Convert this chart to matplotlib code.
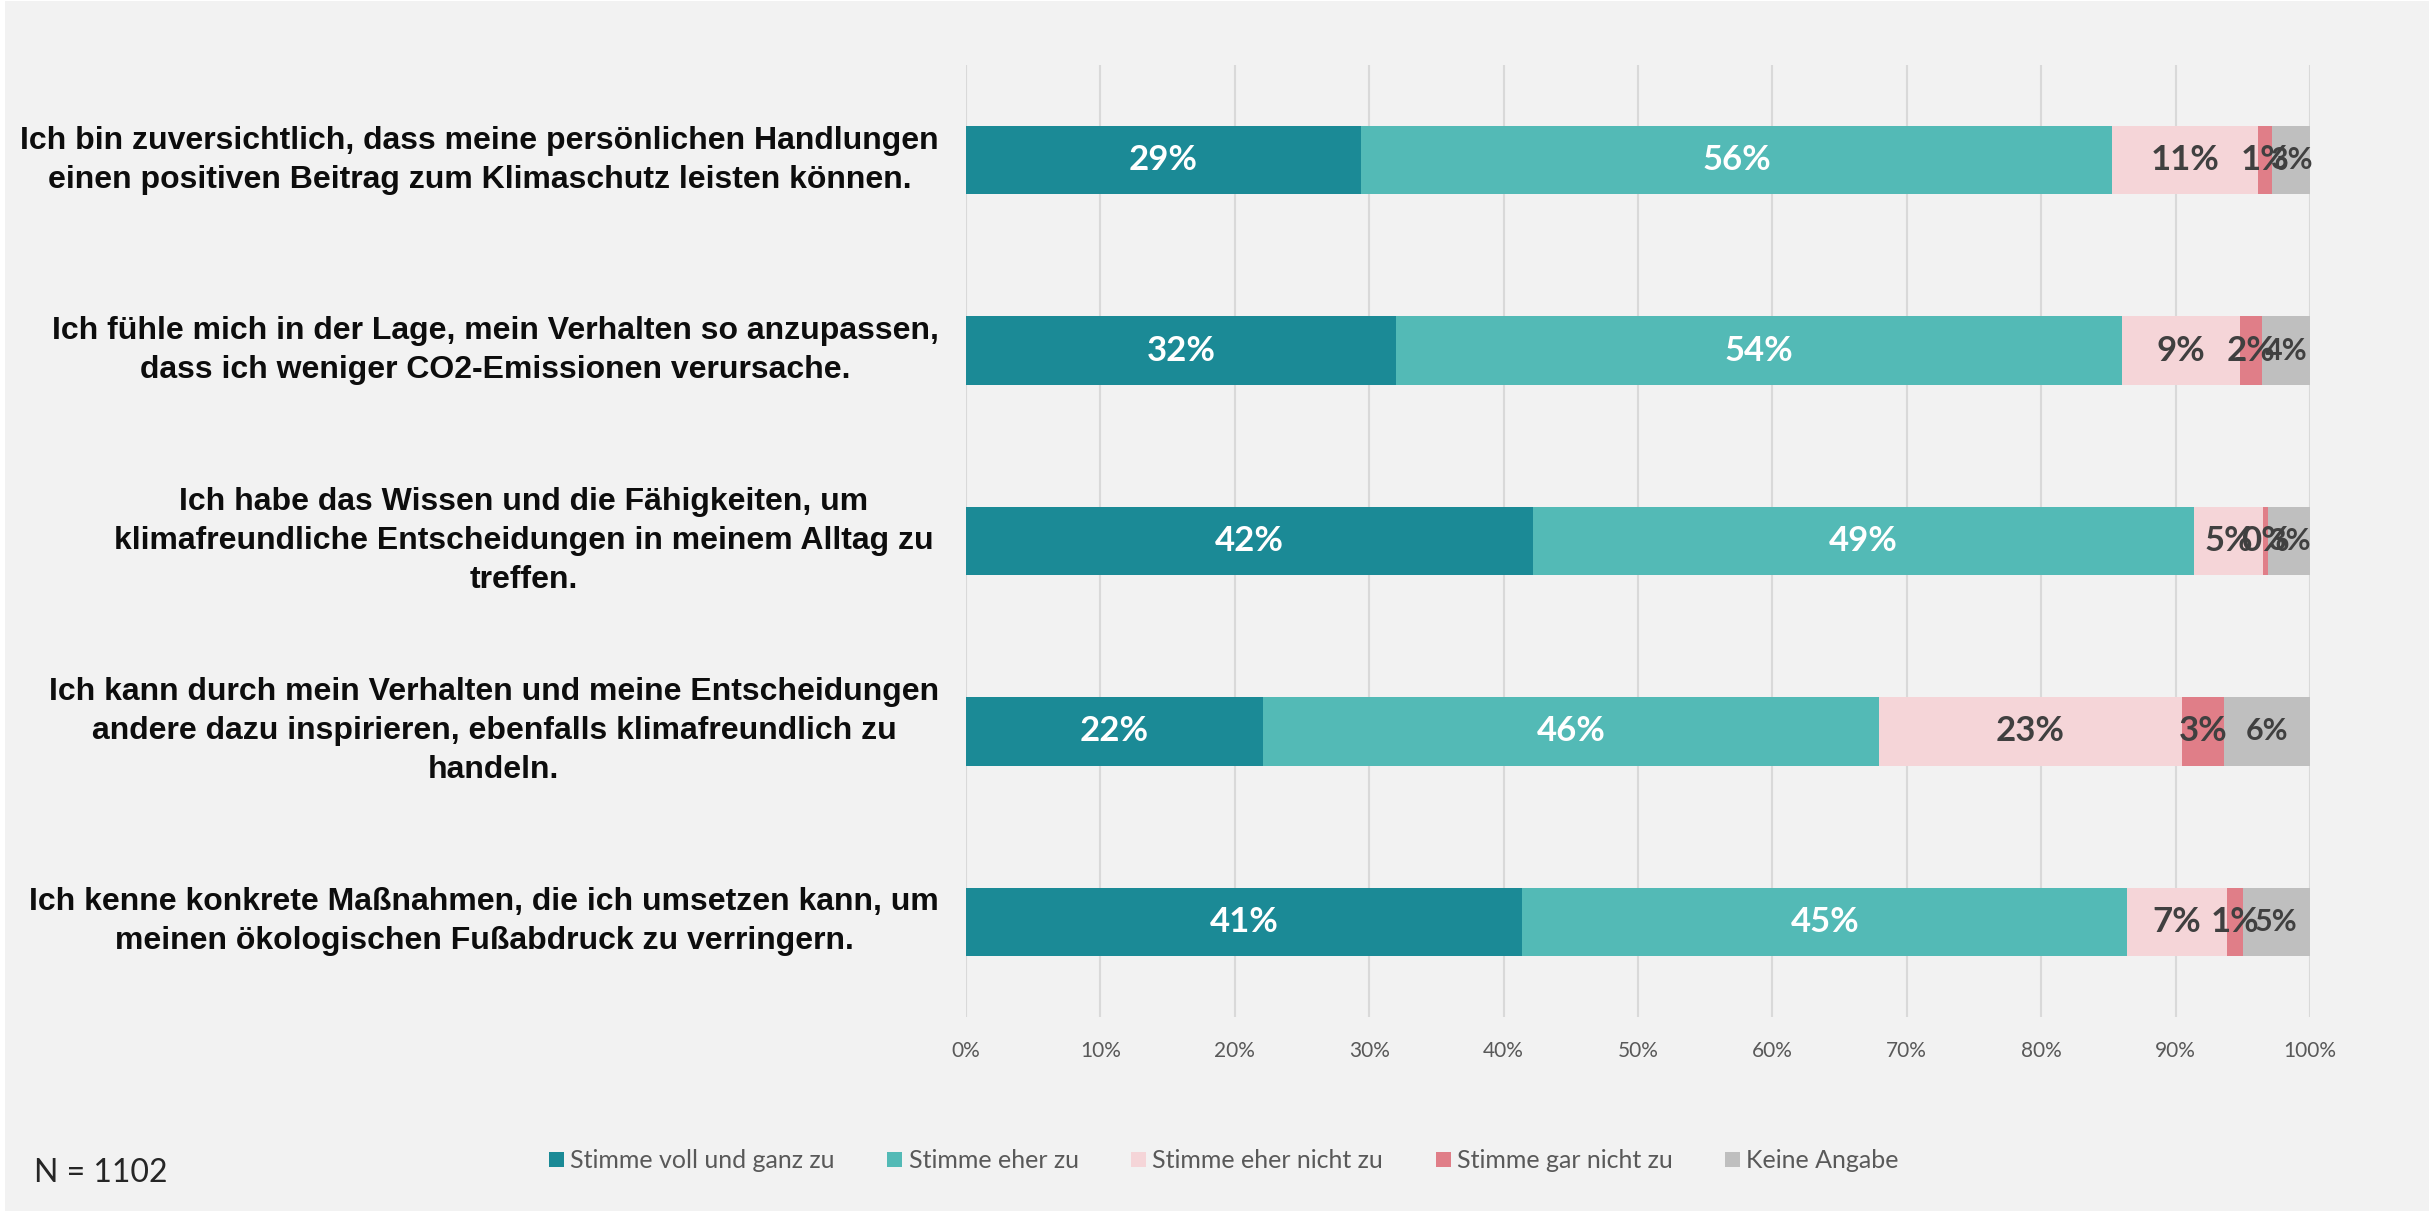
import matplotlib.pyplot as plt
import matplotlib.transforms as mtransforms
from matplotlib.patches import Rectangle, Patch

statements = [
    ["Ich bin zuversichtlich, dass meine persönlichen Handlungen",
     "einen positiven Beitrag zum Klimaschutz leisten können."],
    ["Ich fühle mich in der Lage, mein Verhalten so anzupassen,",
     "dass ich weniger CO2-Emissionen verursache."],
    ["Ich habe das Wissen und die Fähigkeiten, um",
     "klimafreundliche Entscheidungen in meinem Alltag zu",
     "treffen."],
    ["Ich kann durch mein Verhalten und meine Entscheidungen",
     "andere dazu inspirieren, ebenfalls klimafreundlich zu",
     "handeln."],
    ["Ich kenne konkrete Maßnahmen, die ich umsetzen kann, um",
     "meinen ökologischen Fußabdruck zu verringern."],
]
responses = ["Stimme voll und ganz zu", "Stimme eher zu", "Stimme eher nicht zu",
             "Stimme gar nicht zu", "Keine Angabe"]

voll_und_ganz = [29.4, 32.0, 42.2, 22.1, 41.4]
eher = [55.9, 54.0, 49.2, 45.8, 45.0]
eher_nicht = [10.8, 8.8, 5.1, 22.6, 7.4]
gar_nicht = [1.1, 1.6, 0.4, 3.1, 1.2]
keine_angabe = [2.8, 3.6, 3.1, 6.4, 5.0]

ticks = [0, 10, 20, 30, 40, 50, 60, 70, 80, 90, 100]
n_label = "N = 1102"

series = [voll_und_ganz, eher, eher_nicht, gar_nicht, keine_angabe]
colors = ["#1B8A96", "#53BAB6", "#F5D5D8", "#E07E88", "#BFBFBF"]
text_colors = ["white", "white", "#404040", "#404040", "#404040"]
label_sizes = [25, 25, 25, 25, 22]
BG = "#F2F2F2"

W, H = 2433, 1211
fig = plt.figure(figsize=(W / 100, H / 100), dpi=100, facecolor="white")
fig.patches.append(Rectangle((5 / W, 0), (2429 - 5) / W, (H - 1) / H,
                             transform=fig.transFigure, facecolor=BG,
                             edgecolor="none", zorder=-10))

ax = fig.add_axes([966 / W, (H - 1017) / H, 1344 / W, 952 / H])
ax.set_facecolor(BG)
ax.patch.set_alpha(0)

ypos = list(range(len(statements)))
left = [0.0] * len(statements)
for vals, col, tcol, fs in zip(series, colors, text_colors, label_sizes):
    ax.barh(ypos, vals, left=left, height=0.36, color=col, zorder=3)
    for y, v, l in zip(ypos, vals, left):
        ax.text(l + v / 2, y, f"{v:.0f}%", ha="center", va="center",
                color=tcol, fontsize=fs, fontweight="bold", family="Lato",
                zorder=4)
    left = [l + v for l, v in zip(left, vals)]

ax.set_xlim(0, 100)
ax.set_ylim(len(statements) - 0.5, -0.5)
ax.set_xticks(ticks)
ax.set_xticklabels([f"{t}%" for t in ticks], fontsize=15, family="Lato",
                   color="#595959")
ax.set_yticks([])
ax.tick_params(axis="x", length=0, pad=17)
ax.grid(axis="x", color="#D9D9D9", linewidth=1.5, zorder=0)
for s in ax.spines.values():
    s.set_visible(False)

# category labels: lines centred as a block, block kept left of the plot
renderer = fig.canvas.get_renderer()
trans = mtransforms.blended_transform_factory(fig.transFigure, ax.transData)
center_px, right_px, line_px = 524, 939, 39
for y, lines in zip(ypos, statements):
    n = len(lines)
    texts = []
    for k, line in enumerate(lines):
        off = ((n - 1) / 2 - k) * line_px * 0.72
        t = ax.annotate(line, xy=(center_px / W, y), xycoords=trans,
                        xytext=(0, off), textcoords="offset points",
                        ha="center", va="center", fontsize=23,
                        fontweight="bold", family="Liberation Sans",
                        color="#0D0D0D")
        texts.append(t)
    maxw = max(t.get_window_extent(renderer).width for t in texts)
    cx = min(center_px, right_px - maxw / 2)
    for t in texts:
        t.xy = (cx / W, y)

handles = [Patch(facecolor=c, edgecolor="none") for c in colors]
fig.legend(handles, responses, loc="center", bbox_to_anchor=(1224 / W, 50 / H),
           ncol=5, frameon=False, handlelength=0.6, handleheight=0.55,
           handletextpad=0.25, columnspacing=2.1,
           prop={"family": "Lato", "size": 18}, labelcolor="#595959")

fig.text(34 / W, (H - 1173) / H, n_label, ha="left", va="center",
         fontsize=23, family="Lato", color="#262626")

fig.savefig("out.png", dpi=100, facecolor=fig.get_facecolor())
